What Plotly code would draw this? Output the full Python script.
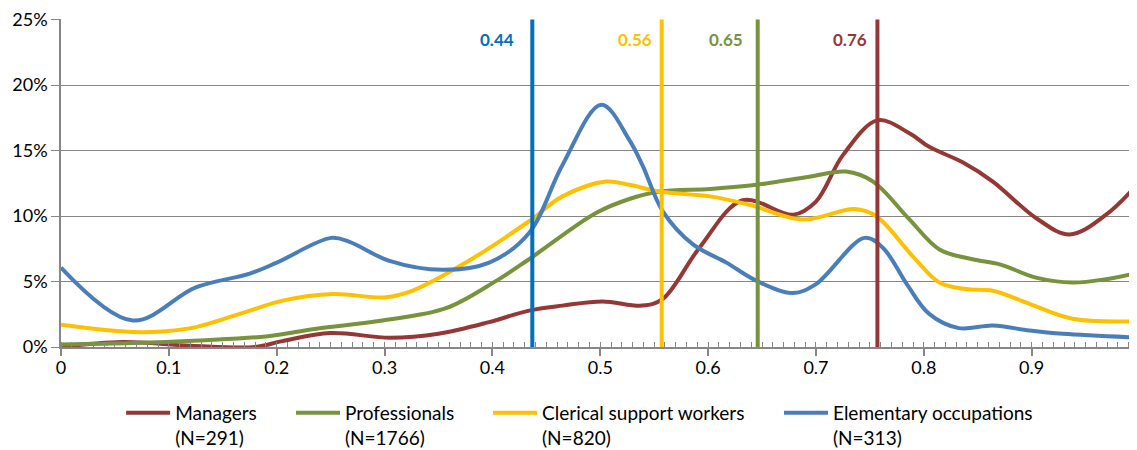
import plotly.graph_objects as go

# ---------------- data ----------------
series_names = ["Managers<br>(N=291)", "Professionals<br>(N=1766)",
                "Clerical support workers<br>(N=820)", "Elementary occupations<br>(N=313)"]
series_colors = ["#953735", "#77933C", "#FFC000", "#4A7EBB"]

managers_x = [0, 0.057, 0.12, 0.18, 0.205, 0.25, 0.305, 0.35, 0.397, 0.434, 0.465, 0.502,
              0.539, 0.558, 0.592, 0.632, 0.679, 0.70, 0.725, 0.757, 0.787, 0.805, 0.836,
              0.864, 0.904, 0.935, 0.969, 1.0]
managers_y = [0.0, 0.38, 0.1, 0.0, 0.45, 1.06, 0.71, 1.01, 1.9, 2.78, 3.16, 3.48,
              3.16, 3.67, 7.58, 11.2, 10.1, 11.1, 14.65, 17.3, 16.3, 15.28, 14.1,
              12.63, 9.85, 8.59, 10.1, 12.6]

professionals_x = [0, 0.067, 0.128, 0.19, 0.237, 0.298, 0.357, 0.4035, 0.434, 0.496, 0.527,
                   0.555, 0.602, 0.645, 0.694, 0.728, 0.753, 0.786, 0.8145, 0.845, 0.8705,
                   0.904, 0.938, 0.969, 1.0]
professionals_y = [0.2, 0.3, 0.5, 0.81, 1.39, 2.02, 2.96, 5.05, 6.7, 10.23, 11.3,
                   11.87, 12.07, 12.38, 13.0, 13.39, 12.63, 9.8, 7.45, 6.7, 6.31,
                   5.3, 4.92, 5.18, 5.7]

clerical_x = [0, 0.067, 0.0975, 0.125, 0.175, 0.2056, 0.252, 0.3015, 0.326, 0.3726, 0.434,
              0.465, 0.5055, 0.527, 0.555, 0.6016, 0.6384, 0.6878, 0.7357, 0.756, 0.79,
              0.8145, 0.839, 0.864, 0.898, 0.938, 1.0]
clerical_y = [1.7, 1.14, 1.21, 1.52, 2.78, 3.54, 4.04, 3.79, 4.3, 6.31, 9.6,
              11.5, 12.63, 12.38, 11.87, 11.5, 10.86, 9.73, 10.53, 9.98, 6.9,
              4.92, 4.42, 4.3, 3.29, 2.15, 1.97]

elementary_x = [0, 0.0666, 0.125, 0.175, 0.2, 0.2505, 0.2675, 0.3046, 0.354, 0.397, 0.434,
                0.465, 0.501, 0.527, 0.539, 0.558, 0.586, 0.617, 0.645, 0.6786, 0.70,
                0.745, 0.762, 0.785, 0.805, 0.8325, 0.864, 0.898, 0.929, 1.0]
elementary_y = [6.06, 2.02, 4.55, 5.6, 6.44, 8.33, 8.03, 6.57, 5.89, 6.44, 8.71,
                13.9, 18.5, 15.8, 13.9, 10.36, 7.83, 6.44, 5.05, 4.12, 4.8,
                8.33, 7.58, 4.7, 2.53, 1.44, 1.64, 1.26, 1.01, 0.72]

median_positions = [0.437, 0.557, 0.646, 0.757]
median_labels = ["0.44", "0.56", "0.65", "0.76"]
median_colors = ["#0070C0", "#FFC000", "#77933C", "#953735"]
median_label_shift = [-16, -8, -13, -8]

y_ticks = [0, 5, 10, 15, 20, 25]
y_tick_text = ["0%", "5%", "10%", "15%", "20%", "25%"]
x_ticks = [0, 0.1, 0.2, 0.3, 0.4, 0.5, 0.6, 0.7, 0.8, 0.9, 1]
x_tick_text = ["0", "0.1", "0.2", "0.3", "0.4", "0.5", "0.6", "0.7", "0.8", "0.9", "1"]

# legend placement (container fractions) for each series' own legend box
legend_x = [0.0995, 0.2489, 0.4222, 0.6781]
legend_y = 0.1422

# ---------------- figure ----------------
FONT = "Lato"
GRAY = "#868686"

fig = go.Figure()
xs = [managers_x, professionals_x, clerical_x, elementary_x]
ys = [managers_y, professionals_y, clerical_y, elementary_y]
legend_ids = ["legend", "legend2", "legend3", "legend4"]
for name, color, x, y, lid in zip(series_names, series_colors, xs, ys, legend_ids):
    fig.add_trace(go.Scatter(x=x, y=y, mode="lines", name=name, legend=lid,
                             line=dict(color=color, width=4, shape="spline", smoothing=1.0),
                             hoverinfo="skip"))

for pos, lab, col, sh in zip(median_positions, median_labels, median_colors, median_label_shift):
    fig.add_trace(go.Scatter(x=[pos, pos], y=[0, 25], mode="lines", showlegend=False,
                             line=dict(color=col, width=4), hoverinfo="skip"))
    fig.add_annotation(x=pos, y=23.5, xref="x", yref="y", text="<b>%s</b>" % lab,
                       showarrow=False, xanchor="right", yanchor="middle", xshift=sh,
                       font=dict(family=FONT, size=17, color=col))

legend_layout = {}
for lid, lx in zip(legend_ids, legend_x):
    legend_layout[lid] = dict(orientation="h", xref="container", yref="container",
                              x=lx, xanchor="left", y=legend_y, yanchor="top",
                              valign="top", itemwidth=44, bgcolor="rgba(0,0,0,0)",
                              font=dict(family=FONT, size=19, color="#000000"))

fig.update_layout(
    width=1137, height=450,
    margin=dict(l=53, r=0, t=9, b=111),
    paper_bgcolor="white", plot_bgcolor="white",
    font=dict(family=FONT, size=18, color="#000000"),
    showlegend=True,
    xaxis=dict(range=[0, 1.0051], tickvals=x_ticks, ticktext=x_tick_text,
               showgrid=False, zeroline=False,
               showline=True, linecolor=GRAY, linewidth=1.5,
               ticks="outside", ticklen=7, tickcolor=GRAY, tickwidth=1.5,
               ticklabelstandoff=-3, ticklabeloverflow="allow",
               minor=dict(dtick=0.01, ticks="inside", ticklen=5, tickcolor=GRAY,
                          tickwidth=1, showgrid=False),
               tickfont=dict(family=FONT, size=18)),
    yaxis=dict(range=[0, 25.04], tickvals=y_ticks, ticktext=y_tick_text, showgrid=True,
               gridcolor=GRAY, gridwidth=1, zeroline=False,
               showline=True, linecolor=GRAY, linewidth=1.5,
               ticks="outside", ticklen=8, tickcolor=GRAY, ticklabeloverflow="allow",
               tickfont=dict(family=FONT, size=18)),
    **legend_layout,
)

fig.write_html("out.html")
